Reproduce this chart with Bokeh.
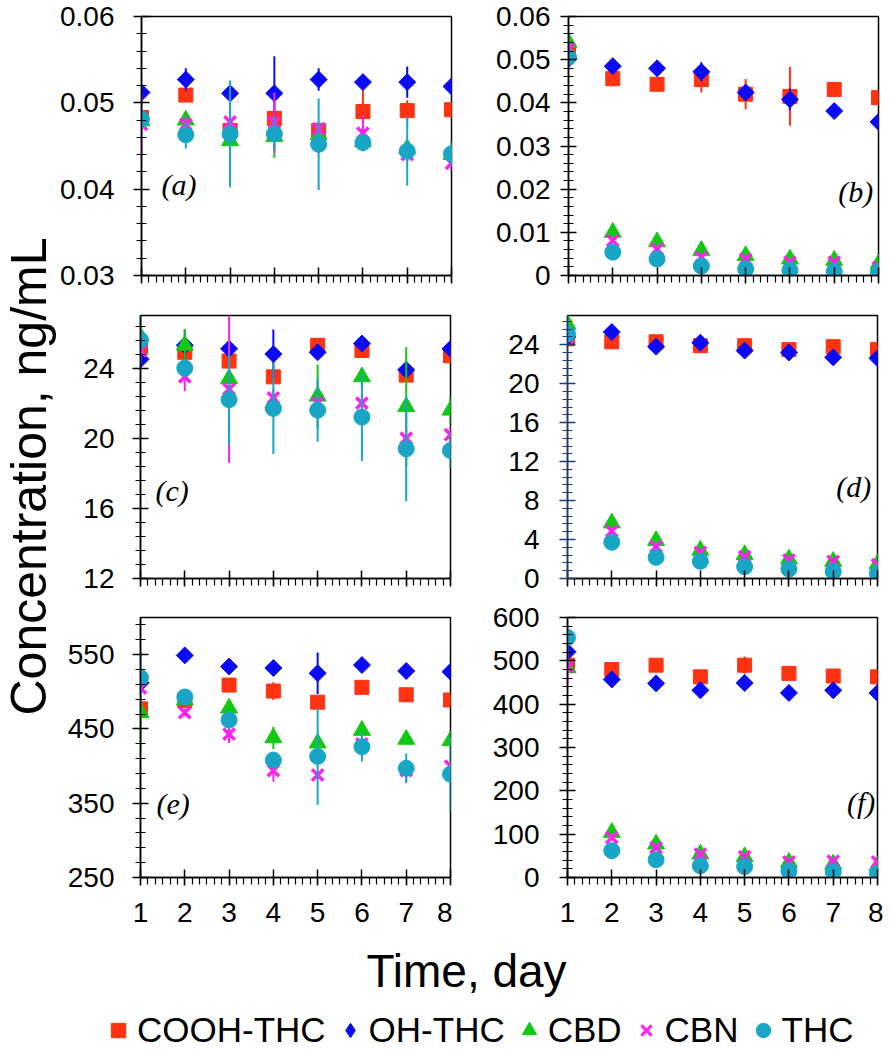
import numpy as np
from math import pi
from bokeh.plotting import figure
from bokeh.layouts import row, column
from bokeh.models import (Range1d, FixedTicker, NumeralTickFormatter, Label,
                          Legend, LegendItem)
from bokeh.embed import file_html
from bokeh.resources import INLINE

# ---------------- data ----------------
days = [1, 2, 3, 4, 5, 6, 7, 8]
series = ["COOH-THC", "OH-THC", "CBD", "CBN", "THC"]

# panel (a)
a_cooh = [0.0483, 0.0509, 0.0468, 0.0482, 0.0468, 0.0490, 0.0491, 0.0492]
a_oh   = [0.0512, 0.0527, 0.0511, 0.0511, 0.0527, 0.0524, 0.0524, 0.0519]
a_cbd  = [0.0479, 0.0480, 0.0456, 0.0461, 0.0463, 0.0455, 0.0447, 0.0440]
a_cbn  = [0.0475, 0.0475, 0.0478, 0.0477, 0.0470, 0.0465, 0.0440, 0.0430]
a_thc  = [0.0481, 0.0463, 0.0464, 0.0464, 0.0452, 0.0454, 0.0444, 0.0441]
a_cooh_err = [0.0006, 0.0008, 0.0006, 0.0008, 0.0006, 0.0026, 0.0012, 0.0008]
a_oh_err   = [0.0006, 0.0013, 0.0006, 0.0043, 0.0013, 0.0008, 0.0018, 0.0008]
a_cbd_err  = [0.0008, 0.0008, 0.0010, 0.0025, 0.0008, 0.0006, 0.0008, 0.0010]
a_cbn_err  = [0.0036, 0.0010, 0.0010, 0.0035, 0.0006, 0.0021, 0.0008, 0.0008]
a_thc_err  = [0.0020, 0.0016, 0.0062, 0.0020, 0.0053, 0.0010, 0.0040, 0.0015]

# panel (b)
b_cooh = [0.0520, 0.0456, 0.0443, 0.0454, 0.0420, 0.0415, 0.0431, 0.0412]
b_oh   = [0.0502, 0.0485, 0.0480, 0.0472, 0.0424, 0.0408, 0.0381, 0.0356]
b_cbd  = [0.0540, 0.0100, 0.0078, 0.0058, 0.0046, 0.0038, 0.0035, 0.0027]
b_cbn  = [0.0525, 0.0081, 0.0061, 0.0042, 0.0038, 0.0031, 0.0031, 0.0019]
b_thc  = [0.0506, 0.0054, 0.0038, 0.0022, 0.0015, 0.0012, 0.0009, 0.0008]
b_cooh_err = [0.0010, 0.0018, 0.0008, 0.0030, 0.0035, 0.0068, 0.0008, 0.0008]
b_oh_err   = [0.0008, 0.0008, 0.0017, 0.0022, 0.0010, 0.0025, 0.0006, 0.0006]
b_cbd_err  = [0.0010, 0.0005, 0.0005, 0.0005, 0.0005, 0.0005, 0.0005, 0.0005]
b_cbn_err  = [0.0005, 0.0005, 0.0005, 0.0005, 0.0005, 0.0005, 0.0005, 0.0005]
b_thc_err  = [0.0005, 0.0005, 0.0005, 0.0005, 0.0005, 0.0005, 0.0005, 0.0005]

# panel (c)
c_cooh = [25.2, 24.9, 24.4, 23.5, 25.3, 25.0, 23.6, 24.7]
c_oh   = [24.5, 25.3, 25.1, 24.8, 24.9, 25.4, 23.9, 25.1]
c_cbd  = [25.8, 25.3, 23.4, 22.0, 22.4, 23.5, 21.8, 21.6]
c_cbn  = [25.0, 23.5, 22.8, 22.3, 22.0, 22.0, 20.0, 20.2]
c_thc  = [25.6, 24.0, 22.2, 21.7, 21.6, 21.2, 19.4, 19.3]
c_cooh_err = [0.3, 0.3, 0.3, 0.3, 0.3, 0.3, 0.3, 0.3]
c_oh_err   = [0.3, 0.9, 0.3, 1.4, 0.3, 0.3, 0.3, 0.3]
c_cbd_err  = [0.6, 0.9, 0.5, 0.5, 1.8, 0.5, 3.4, 0.8]
c_cbn_err  = [0.5, 0.8, 4.2, 0.5, 0.5, 0.5, 0.5, 0.5]
c_thc_err  = [1.4, 0.5, 2.6, 2.6, 1.8, 2.5, 3.0, 1.0]

# panel (d)
d_cooh = [24.6, 24.3, 24.3, 23.9, 23.9, 23.5, 23.8, 23.5]
d_oh   = [24.8, 25.3, 23.8, 24.2, 23.4, 23.2, 22.7, 22.6]
d_cbd  = [26.1, 5.7, 3.9, 2.9, 2.45, 2.0, 1.76, 1.5]
d_cbn  = [24.8, 4.86, 3.28, 2.69, 2.24, 1.9, 1.76, 1.41]
d_thc  = [25.1, 3.72, 2.17, 1.76, 1.21, 0.97, 0.72, 0.52]
d_cooh_err = [0.3, 0.3, 0.3, 0.3, 0.3, 0.4, 0.3, 0.3]
d_oh_err   = [0.3, 0.3, 0.3, 0.3, 0.3, 0.3, 0.3, 0.3]
d_cbd_err  = [1.2, 0.3, 0.3, 0.3, 0.3, 0.3, 0.3, 0.3]
d_cbn_err  = [0.4, 0.3, 0.3, 0.3, 0.3, 0.3, 0.3, 0.3]
d_thc_err  = [0.4, 0.3, 0.3, 0.3, 0.3, 0.3, 0.3, 0.3]

# panel (e)
e_cooh = [477, 488, 509, 501, 486, 506, 496, 489]
e_oh   = [512, 549, 534, 532, 525, 536, 528, 527]
e_cbd  = [472, 489, 478, 438, 431, 448, 436, 434]
e_cbn  = [505, 472, 443, 394, 388, 430, 394, 400]
e_thc  = [519, 493, 462, 408, 413, 426, 397, 389]
e_cooh_err = [5, 5, 5, 12, 5, 6, 8, 5]
e_oh_err   = [5, 5, 7, 5, 28, 8, 10, 5]
e_cbd_err  = [50, 5, 5, 15, 5, 5, 5, 5]
e_cbn_err  = [5, 5, 12, 15, 5, 5, 15, 5]
e_thc_err  = [35, 5, 5, 10, 65, 20, 20, 50]

# panel (f)
f_cooh = [490, 480, 490, 463, 490, 471, 465, 463]
f_oh   = [521, 457, 448, 432, 449, 426, 432, 426]
f_cbd  = [484, 104, 77, 54, 48, 35, 31, 27]
f_cbn  = [486, 92, 69, 54, 48, 36, 38, 36]
f_thc  = [554, 62, 41, 27, 25, 15, 13, 10]
f_cooh_err = [5, 5, 5, 5, 20, 5, 5, 5]
f_oh_err   = [5, 5, 5, 15, 5, 5, 5, 5]
f_cbd_err  = [5, 5, 5, 5, 5, 5, 5, 5]
f_cbn_err  = [40, 5, 5, 5, 5, 5, 5, 5]
f_thc_err  = [30, 5, 5, 5, 5, 5, 5, 5]

# axis ticks
a_ticks = [0.03, 0.04, 0.05, 0.06]
b_ticks = [0, 0.01, 0.02, 0.03, 0.04, 0.05, 0.06]
c_ticks = [12, 16, 20, 24]
d_ticks = [0, 4, 8, 12, 16, 20, 24]
e_ticks = [250, 350, 450, 550]
f_ticks = [0, 100, 200, 300, 400, 500, 600]

# ---------------- styling ----------------
colors = {"COOH-THC": "#FF3311", "OH-THC": "#0A0AF5", "CBD": "#12C812",
          "CBN": "#FF22EE", "THC": "#19A6C6"}
mstyle = {
    "COOH-THC": dict(marker="square", size=14, angle=0.0, line_width=1),
    "OH-THC": dict(marker="square", size=12, angle=pi / 4, line_width=1),
    "CBD": dict(marker="triangle", size=17, angle=0.0, line_width=1),
    "CBN": dict(marker="x", size=16, angle=0.0, line_width=3.5),
    "THC": dict(marker="circle", size=16, angle=0.0, line_width=1),
}
FONT = "Liberation Sans"


def make_panel(vals, errs, yr, majors, minor_step, fmt, standoff, tag, tag_xy,
               tag_align, col, rowpos, axis_color="black"):
    left = col == 0
    fh = [259, 263, 260][rowpos]
    top = [16, 20, 20][rowpos]
    bottom = [20, 19, 52][rowpos]
    p = figure(frame_width=310, frame_height=fh,
               x_range=Range1d(1, 8), y_range=Range1d(*yr),
               toolbar_location=None, output_backend="svg",
               min_border_left=83 if left else 115,
               min_border_right=2 if left else 6,
               min_border_top=top, min_border_bottom=bottom,
               background_fill_color="white", border_fill_color="white",
               outline_line_color="black", outline_line_width=1.5)
    p.xgrid.visible = False
    p.ygrid.visible = False

    # x axis
    xa = p.xaxis[0]
    xa.ticker = FixedTicker(ticks=days,
                            minor_ticks=[1 + k / 6 for k in range(43)])
    xa.axis_line_width = 1.5
    xa.major_tick_line_width = 1.5
    xa.minor_tick_line_width = 1.2
    xa.major_tick_in = 8
    xa.major_tick_out = 8
    xa.minor_tick_in = 0
    xa.minor_tick_out = 7
    xa.major_label_text_font = FONT
    xa.major_label_text_color = "black"
    if rowpos == 2:
        xa.major_label_text_font_size = "28px"
        xa.major_label_standoff = 17
    else:
        xa.major_label_overrides = {d: "" for d in days}
        xa.major_label_text_font_size = "0px"
        xa.major_label_standoff = 0

    # y axis
    ya = p.yaxis[0]
    minors = np.round(np.arange(yr[0], yr[1] + minor_step * 0.01, minor_step), 6).tolist()
    ya.ticker = FixedTicker(ticks=majors, minor_ticks=minors)
    if fmt is not None:
        ya.formatter = NumeralTickFormatter(format=fmt)
    ya.axis_line_width = 1.5
    ya.axis_line_color = axis_color
    ya.major_tick_line_color = axis_color
    ya.minor_tick_line_color = axis_color
    ya.major_tick_line_width = 1.5
    ya.minor_tick_line_width = 1.2
    ya.major_tick_in = 8
    ya.major_tick_out = 8
    ya.minor_tick_in = 5
    ya.minor_tick_out = 5
    ya.major_label_text_font = FONT
    ya.major_label_text_font_size = "28px"
    ya.major_label_text_color = "black"
    ya.major_label_standoff = standoff

    for name, v, e in zip(series, vals, errs):
        c = colors[name]
        lo = [a - b for a, b in zip(v, e)]
        hi = [a + b for a, b in zip(v, e)]
        p.segment(x0=days, y0=lo, x1=days, y1=hi, line_color=c, line_width=2)
        st = mstyle[name]
        p.scatter(days, v, marker=st["marker"], size=st["size"], angle=st["angle"],
                  fill_color=c, line_color=c, line_width=st["line_width"])

    p.add_layout(Label(x=tag_xy[0], y=tag_xy[1], text=tag,
                       text_font="Liberation Serif", text_font_style="italic",
                       text_font_size="30px", text_color="black",
                       text_align=tag_align, text_baseline="middle"))
    return p


pa = make_panel([a_cooh, a_oh, a_cbd, a_cbn, a_thc],
                [a_cooh_err, a_oh_err, a_cbd_err, a_cbn_err, a_thc_err],
                (0.03, 0.06), a_ticks, 0.002, "0.[00]", 19,
                "(a)", (1.45, 0.0405), "left", 0, 0)
pb = make_panel([b_cooh, b_oh, b_cbd, b_cbn, b_thc],
                [b_cooh_err, b_oh_err, b_cbd_err, b_cbn_err, b_thc_err],
                (0, 0.06), b_ticks, 0.002, "0.[00]", 10,
                "(b)", (7.88, 0.0195), "right", 1, 0)
pc = make_panel([c_cooh, c_oh, c_cbd, c_cbn, c_thc],
                [c_cooh_err, c_oh_err, c_cbd_err, c_cbn_err, c_thc_err],
                (12, 27), c_ticks, 0.8, None, 18,
                "(c)", (1.34, 17.0), "left", 0, 1)
pd_ = make_panel([d_cooh, d_oh, d_cbd, d_cbn, d_thc],
                 [d_cooh_err, d_oh_err, d_cbd_err, d_cbn_err, d_thc_err],
                 (0, 27), d_ticks, 0.8, None, 20,
                 "(d)", (7.86, 9.45), "right", 1, 1, axis_color="#1F3D7A")
pe = make_panel([e_cooh, e_oh, e_cbd, e_cbn, e_thc],
                [e_cooh_err, e_oh_err, e_cbd_err, e_cbn_err, e_thc_err],
                (250, 600), e_ticks, 20, None, 18,
                "(e)", (1.36, 350), "left", 0, 2)
pf = make_panel([f_cooh, f_oh, f_cbd, f_cbn, f_thc],
                [f_cooh_err, f_oh_err, f_cbd_err, f_cbn_err, f_thc_err],
                (0, 600), f_ticks, 20, None, 20,
                "(f)", (7.95, 172), "right", 1, 2)

# ---------------- y label strip ----------------
YL_W, YL_H = 57, 929
ylab = figure(width=YL_W, height=YL_H, x_range=Range1d(0, YL_W), y_range=Range1d(0, YL_H),
              toolbar_location=None, output_backend="svg", min_border=0,
              x_axis_type=None, y_axis_type=None, outline_line_color=None)
ylab.xgrid.visible = False
ylab.ygrid.visible = False
ylab.add_layout(Label(x=28.5, y=453, text="Concentration, ng/mL", angle=pi / 2,
                      text_font=FONT, text_font_size="50px", text_color="black",
                      text_align="center", text_baseline="middle"))

# ---------------- bottom: x title + legend ----------------
BW, BH = 883, 121
bottom = figure(width=BW, height=BH, x_range=Range1d(0, BW), y_range=Range1d(0, BH),
                toolbar_location=None, output_backend="svg", min_border=0,
                x_axis_type=None, y_axis_type=None, outline_line_color=None)
bottom.xgrid.visible = False
bottom.ygrid.visible = False
bottom.add_layout(Label(x=466, y=80, text="Time, day", text_font=FONT,
                        text_font_size="46px", text_color="black",
                        text_align="center", text_baseline="middle"))

legend_markers = {"COOH-THC": "square", "OH-THC": "diamond", "CBD": "triangle",
                  "CBN": "x", "THC": "circle"}
items = []
for name in series:
    r = bottom.scatter(x=[float("nan")], y=[float("nan")], marker=legend_markers[name],
                       fill_color=colors[name], line_color=colors[name],
                       line_width=3 if name == "CBN" else 1)
    items.append(LegendItem(label=name, renderers=[r]))
leg = Legend(items=items, orientation="horizontal", location=(100, 0),
             glyph_width=36, glyph_height=36, label_standoff=1, spacing=6,
             padding=0, margin=0, border_line_color=None,
             background_fill_alpha=0, label_text_font=FONT,
             label_text_font_size="35px", label_text_color="black")
bottom.add_layout(leg)

layout = column(row(ylab, column(row(pa, pb), row(pc, pd_), row(pe, pf))), bottom)

open("out.html", "w").write(file_html(layout, INLINE))
